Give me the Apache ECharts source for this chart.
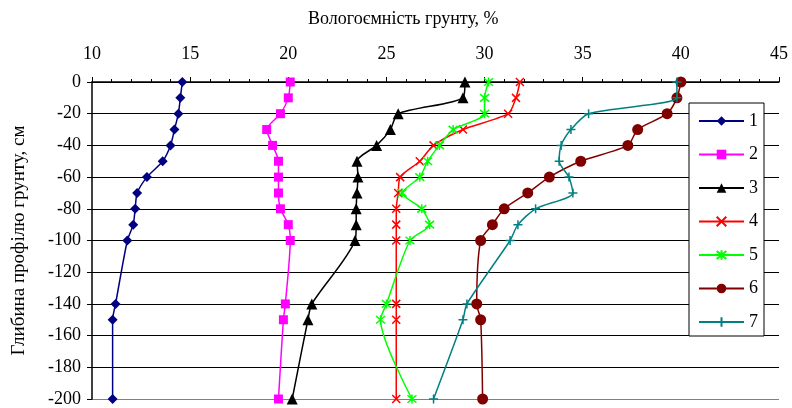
<!DOCTYPE html>
<html>
<head>
<meta charset="utf-8">
<script src="https://cdn.jsdelivr.net/npm/echarts@6/dist/echarts.min.js"></script>
<style>html,body{margin:0;padding:0;background:#fff}#c{width:792px;height:408px}</style>
</head>
<body>
<div id="c"></div>
<script>
const depths = [0, -10, -20, -30, -40, -50, -60, -70, -80, -90, -100, -140, -150, -200];
const seriesNames = ['1', '2', '3', '4', '5', '6', '7'];
const s1 = [14.6, 14.5, 14.4, 14.2, 14.0, 13.6, 12.8, 12.3, 12.2, 12.1, 11.8, 11.2, 11.05, 11.05];
const s2 = [20.1, 20.0, 19.6, 18.9, 19.2, 19.5, 19.5, 19.5, 19.6, 20.0, 20.1, 19.85, 19.75, 19.5];
const s3 = [29.0, 28.9, 25.6, 25.2, 24.5, 23.5, 23.55, 23.5, 23.46, 23.46, 23.4, 21.2, 21.0, 20.2];
const s4 = [31.8, 31.6, 31.2, 28.9, 27.4, 26.7, 25.7, 25.6, 25.5, 25.5, 25.5, 25.5, 25.5, 25.5];
const s5 = [30.2, 30.0, 30.0, 28.4, 27.7, 27.1, 26.7, 25.8, 26.8, 27.2, 26.2, 25.0, 24.7, 26.3];
const s6 = [40.0, 39.8, 39.3, 37.8, 37.3, 34.9, 33.3, 32.2, 31.0, 30.4, 29.8, 29.6, 29.8, 29.9];
const s7 = [39.8, 39.8, 35.3, 34.4, 33.9, 33.8, 34.3, 34.5, 32.6, 31.7, 31.3, 29.1, 28.9, 27.4];
const xTicks = [10, 15, 20, 25, 30, 35, 40, 45];
const yTicks = [0, -20, -40, -60, -80, -100, -120, -140, -160, -180, -200];

const allValues = [s1, s2, s3, s4, s5, s6, s7];
const colors = ['#000080', '#FF00FF', '#000000', '#FF0000', '#00FF00', '#800000', '#008080'];
const symbols = [
  'diamond', 'rect', 'triangle',
  'path://M0,0L10,10M10,0L0,10',
  'path://M0,0L10,10M10,0L0,10M5,-1L5,11',
  'circle',
  'path://M5,0L5,10M0,5L10,5'
];
const sizes = [10, 9, 11, 8, 9, 11, 9];
const stroked = [false, false, false, true, true, false, true];

const font = 'Liberation Serif';
const series = allValues.map((vals, i) => ({
  name: seriesNames[i],
  type: 'line',
  smooth: 0.25,
  data: vals.map((v, k) => [v, depths[k]]),
  symbol: symbols[i],
  symbolSize: sizes[i],
  showAllSymbol: true,
  lineStyle: { color: colors[i], width: 1.5 },
  itemStyle: stroked[i]
    ? { color: colors[i], borderColor: colors[i], borderWidth: 1.5 }
    : { color: colors[i], borderWidth: 0 },
  emphasis: { disabled: true },
  animation: false,
  z: 3 + i
}));

const chart = echarts.init(document.getElementById('c'), null, { renderer: 'canvas' });
chart.setOption({
  animation: false,
  backgroundColor: '#fff',
  grid: { left: 92, right: 13, top: 82, bottom: 6, containLabel: false },
  xAxis: {
    type: 'value', position: 'top',
    min: xTicks[0], max: xTicks[xTicks.length - 1], interval: 5,
    axisLine: { show: true, lineStyle: { color: '#000', width: 1.5 } },
    axisTick: { show: true, inside: false, length: 5, lineStyle: { color: '#000' } },
    minorTick: { show: true, splitNumber: 5, length: 3, lineStyle: { color: '#000' } },
    splitLine: { show: false },
    axisLabel: { color: '#000', fontFamily: font, fontSize: 18, margin: 19 }
  },
  yAxis: {
    type: 'value',
    min: yTicks[yTicks.length - 1], max: yTicks[0], interval: 20,
    name: 'Глибина профілю грунту, см',
    nameLocation: 'middle', nameGap: 63,
    nameTextStyle: { color: '#000', fontFamily: font, fontSize: 19 },
    axisLine: { show: true, onZero: false, lineStyle: { color: '#000', width: 1.5 } },
    axisTick: { show: true, inside: false, length: 5, lineStyle: { color: '#000' } },
    splitLine: { show: true, lineStyle: { color: ['#808080', '#000', '#000', '#000', '#000', '#000', '#000', '#000', '#000', '#000', '#000'], width: 1.2 } },
    axisLabel: { color: '#000', fontFamily: font, fontSize: 18, margin: 11 }
  },
  legend: {
    orient: 'vertical', left: 689, top: 103,
    data: seriesNames,
    backgroundColor: '#fff', borderColor: '#000', borderWidth: 1,
    padding: [9, 6, 5, 9],
    itemWidth: 45, itemHeight: 12, itemGap: 15.5,
    textStyle: { color: '#000', fontFamily: font, fontSize: 18, lineHeight: 18 },
    selectedMode: false
  },
  graphic: [{
    type: 'text', left: 404 - 96, top: 10,
    style: { text: 'Вологоємність грунту, %', fontFamily: font, fontSize: 18, fill: '#000' }
  }],
  series: series
});
</script>
</body>
</html>
